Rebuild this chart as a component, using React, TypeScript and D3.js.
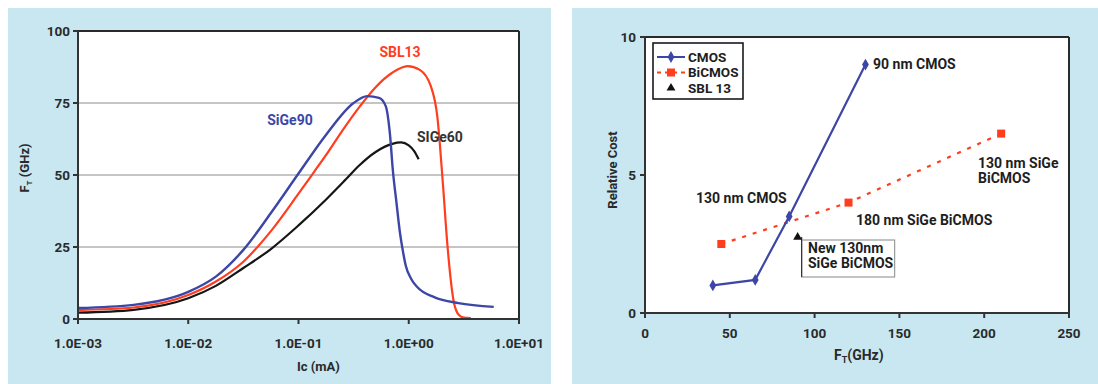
import React from 'react';
import * as d3 from 'd3';

// ---------- Left chart data (Ic in mA, fT in GHz) ----------
const sige90Ic = [0.001, 0.0032, 0.01, 0.0178, 0.0316, 0.0562, 0.1, 0.178, 0.316, 0.42, 0.537, 0.617, 0.676, 0.716, 0.776, 0.832, 0.881, 0.94, 1.05, 1.2, 1.7, 2.82, 5.9];
const sige90Ft = [3.8, 4.9, 9.4, 14.7, 24, 36.8, 50.5, 64, 75, 77.4, 76.8, 74, 64, 52, 40, 30, 24, 18.5, 14, 11, 7.6, 5.5, 4.2];

const sbl13Ic = [0.001, 0.0032, 0.01, 0.0178, 0.0316, 0.0562, 0.1, 0.138, 0.182, 0.251, 0.363, 0.501, 0.708, 0.977, 1.26, 1.58, 1.82, 2.04, 2.25, 2.56, 2.85, 3.16, 3.66];
const sbl13Ft = [3.1, 4.0, 8.3, 13, 19.9, 30.5, 43.5, 51, 57.5, 65.5, 74, 80.5, 85.5, 87.8, 86.5, 81, 70, 47, 25, 6, 1.4, 0.5, 0.3];

const sige60Ic = [0.001, 0.0032, 0.01, 0.0178, 0.0316, 0.0562, 0.1, 0.178, 0.269, 0.355, 0.501, 0.708, 0.851, 1.0, 1.12, 1.23];
const sige60Ft = [2.2, 3.2, 7.2, 11.5, 17.7, 24.3, 32.5, 41.5, 48.5, 53.3, 58, 60.8, 61.3, 60.3, 58.3, 55.5];

const leftXTicks = [0.001, 0.01, 0.1, 1, 10];
const leftXTickLabels = ['1.0E-03', '1.0E-02', '1.0E-01', '1.0E+00', '1.0E+01'];
const leftYTicks = [0, 25, 50, 75, 100];

// ---------- Right chart data ----------
const cmosFt = [40, 65, 85, 130];
const cmosCost = [1, 1.2, 3.5, 9];
const bicmosFt = [45, 120, 210];
const bicmosCost = [2.5, 4, 6.5];
const sbl13PointFt = [90];
const sbl13PointCost = [2.75];
const rightXTicks = [0, 50, 100, 150, 200, 250];
const rightYTicks = [0, 5, 10];
const legendLabels = ['CMOS', 'BiCMOS', 'SBL 13'];

const FONT = "Roboto, 'DejaVu Sans Condensed', sans-serif";
const BLUE = '#3b46a6';
const RED = '#ff3d1f';
const BG = '#c8e7f0';
const TXT = '#1e1e1e';
const FS = 13.5;

function LeftChart() {
  const x0 = 78, x1 = 519, y0 = 31, y1 = 319;
  const x = d3.scaleLog().domain([0.001, 10]).range([x0, x1]);
  const y = d3.scaleLinear().domain([0, 100]).range([y1, y0]);
  const mk = (xs: number[], ys: number[]) =>
    d3.line<number>().x((_, i) => x(xs[i])).y((_, i) => y(ys[i])).curve(d3.curveMonotoneX)(xs) || '';
  return (
    <g>
      <rect x={8} y={8} width={543} height={376} fill={BG} />
      <rect x={x0} y={y0} width={x1 - x0} height={y1 - y0} fill="#fff" />
      {leftYTicks.filter(t => t > 0 && t < 100).map(t => (
        <line key={t} x1={x0} x2={x1} y1={y(t)} y2={y(t)} stroke="#8c8c8c" strokeWidth={1.2} />
      ))}
      <path d={mk(sige60Ic, sige60Ft)} fill="none" stroke="#161616" strokeWidth={2.2} />
      <path d={mk(sbl13Ic, sbl13Ft)} fill="none" stroke={RED} strokeWidth={2.2} />
      <path d={mk(sige90Ic, sige90Ft)} fill="none" stroke={BLUE} strokeWidth={2.4} />
      {/* frame */}
      <line x1={x0} x2={x1} y1={y0} y2={y0} stroke="#2a2a2a" strokeWidth={2} />
      <line x1={x1} x2={x1} y1={y0} y2={y1} stroke="#2a2a2a" strokeWidth={2} />
      <line x1={x0} x2={x0} y1={y0} y2={y1} stroke="#333" strokeWidth={2} />
      <line x1={x0} x2={x1} y1={y1} y2={y1} stroke="#333" strokeWidth={2} />
      {leftYTicks.map(t => (
        <g key={t}>
          <line x1={x0 - 5} x2={x0} y1={y(t)} y2={y(t)} stroke="#333" strokeWidth={2} />
          <text x={x0 - 8} y={y(t)} dy="0.35em" textAnchor="end" fontFamily={FONT} fontWeight="bold" fontSize={FS} fill="#2a2a2a">{t}</text>
        </g>
      ))}
      {leftXTicks.map((t, i) => (
        <g key={t}>
          <line x1={x(t)} x2={x(t)} y1={y1} y2={y1 + 5} stroke="#333" strokeWidth={2} />
          <text x={x(t)} y={348} textAnchor="middle" fontFamily={FONT} fontWeight="bold" fontSize={FS} fill="#2a2a2a">{leftXTickLabels[i]}</text>
        </g>
      ))}
      <text x={297} y={371} fontFamily={FONT} fontWeight="bold" fontSize={13} fill="#2a2a2a">Ic (mA)</text>
      <text transform="translate(29,168) rotate(-90)" textAnchor="middle" fontFamily={FONT} fontWeight="bold" fontSize={13} fill="#2a2a2a">
        F<tspan fontSize={8} dy={3}>T</tspan><tspan dy={-3}> (GHz)</tspan>
      </text>
      <text x={400} y={57} textAnchor="middle" fontFamily={FONT} fontWeight="bold" fontSize={14} fill={RED}>SBL13</text>
      <text x={290} y={125} textAnchor="middle" fontFamily={FONT} fontWeight="bold" fontSize={14} fill={BLUE}>SiGe90</text>
      <text x={417} y={142} fontFamily={FONT} fontWeight="bold" fontSize={14} fill="#333">SIGe60</text>
    </g>
  );
}

function RightChart() {
  const x0 = 645, x1 = 1069, y0 = 37, y1 = 313;
  const x = d3.scaleLinear().domain([0, 250]).range([x0, x1]);
  const y = d3.scaleLinear().domain([0, 10]).range([y1, y0]);
  const line = (xs: number[], ys: number[]) =>
    d3.line<number>().x((_, i) => x(xs[i])).y((_, i) => y(ys[i]))(xs) || '';
  const diamond = d3.symbol().type(d3.symbolDiamond).size(40)() || '';
  const tri = d3.symbol().type(d3.symbolTriangle).size(34)() || '';
  const tx = x(sbl13PointFt[0]);
  const ty = y(sbl13PointCost[0]);
  const legendRows = [57, 72.5, 88];
  return (
    <g>
      <rect x={572} y={8} width={526} height={376} fill={BG} />
      <rect x={x0} y={y0} width={x1 - x0} height={y1 - y0} fill="#fff" />
      {/* callout box */}
      <rect x={tx + 4} y={240} width={93} height={37} fill="#fff" stroke="#9a9a9a" strokeWidth={1.2} />
      <line x1={tx + 4} x2={tx + 4} y1={ty} y2={277} stroke="#333" strokeWidth={1.2} />
      <text fontFamily={FONT} fontWeight="bold" fontSize={14} fill={TXT}>
        <tspan x={808} y={253}>New 130nm</tspan>
        <tspan x={808} y={268}>SiGe BiCMOS</tspan>
      </text>
      {/* BiCMOS */}
      <path d={line(bicmosFt, bicmosCost)} fill="none" stroke={RED} strokeWidth={2.2} strokeDasharray="4 7" />
      {bicmosFt.map((f, i) => (
        <rect key={f} x={x(f) - 4} y={y(bicmosCost[i]) - 4} width={8} height={8} fill={RED} />
      ))}
      {/* CMOS */}
      <path d={line(cmosFt, cmosCost)} fill="none" stroke={BLUE} strokeWidth={2.2} />
      {cmosFt.map((f, i) => (
        <path key={f} d={diamond} transform={`translate(${x(f)},${y(cmosCost[i])})`} fill={BLUE} />
      ))}
      {/* SBL13 */}
      <path d={tri} transform={`translate(${tx},${ty})`} fill="#111" />
      {/* frame */}
      <line x1={x0} x2={x1} y1={y0} y2={y0} stroke="#2a2a2a" strokeWidth={2} />
      <line x1={x1} x2={x1} y1={y0} y2={y1} stroke="#2a2a2a" strokeWidth={2} />
      <line x1={x0} x2={x0} y1={y0} y2={y1} stroke="#333" strokeWidth={2} />
      <line x1={x0} x2={x1} y1={y1} y2={y1} stroke="#333" strokeWidth={2} />
      {rightYTicks.map(t => (
        <g key={t}>
          <line x1={x0 - 5} x2={x0} y1={y(t)} y2={y(t)} stroke="#333" strokeWidth={2} />
          <text x={x0 - 9} y={y(t)} dy="0.35em" textAnchor="end" fontFamily={FONT} fontWeight="bold" fontSize={FS} fill="#2a2a2a">{t}</text>
        </g>
      ))}
      {rightXTicks.map(t => (
        <g key={t}>
          <line x1={x(t)} x2={x(t)} y1={y1} y2={y1 + 5} stroke="#333" strokeWidth={2} />
          <text x={x(t)} y={338} textAnchor="middle" fontFamily={FONT} fontWeight="bold" fontSize={FS} fill="#2a2a2a">{t}</text>
        </g>
      ))}
      <text x={834} y={360} fontFamily={FONT} fontWeight="bold" fontSize={14} fill="#2a2a2a">
        F<tspan fontSize={9} dy={3}>T</tspan><tspan dy={-3}>(GHz)</tspan>
      </text>
      <text transform="translate(617,170) rotate(-90)" textAnchor="middle" fontFamily={FONT} fontWeight="bold" fontSize={13} fill="#2a2a2a">Relative Cost</text>
      {/* annotations */}
      <text x={873} y={69} fontFamily={FONT} fontWeight="bold" fontSize={14} fill={TXT}>90 nm CMOS</text>
      <text fontFamily={FONT} fontWeight="bold" fontSize={14} fill={TXT}>
        <tspan x={978} y={168}>130 nm SiGe</tspan>
        <tspan x={978} y={183}>BiCMOS</tspan>
      </text>
      <text x={696} y={203} fontFamily={FONT} fontWeight="bold" fontSize={14} fill={TXT}>130 nm CMOS</text>
      <text x={856} y={225} fontFamily={FONT} fontWeight="bold" fontSize={14} fill={TXT}>180 nm SiGe BiCMOS</text>
      {/* legend */}
      <rect x={653} y={43} width={90} height={56} fill="#fff" stroke="#1a1a1a" strokeWidth={1.6} />
      <line x1={657} x2={685} y1={legendRows[0]} y2={legendRows[0]} stroke={BLUE} strokeWidth={2} />
      <path d={diamond} transform={`translate(671,${legendRows[0]})`} fill={BLUE} />
      <line x1={657} x2={685} y1={legendRows[1]} y2={legendRows[1]} stroke={RED} strokeWidth={2} strokeDasharray="4 4" />
      <rect x={667} y={legendRows[1] - 4} width={8} height={8} fill={RED} />
      <path d={tri} transform={`translate(671,${legendRows[2]})`} fill="#111" />
      {legendLabels.map((l, i) => (
        <text key={l} x={688} y={legendRows[i]} dy="0.36em" fontFamily={FONT} fontWeight="bold" fontSize={13.5} fill={TXT}>{l}</text>
      ))}
    </g>
  );
}

export default function App() {
  return (
    <svg width={1098} height={384} style={{ position: 'absolute', left: 0, top: 0, background: '#fff' }}>
      <LeftChart />
      <RightChart />
    </svg>
  );
}
